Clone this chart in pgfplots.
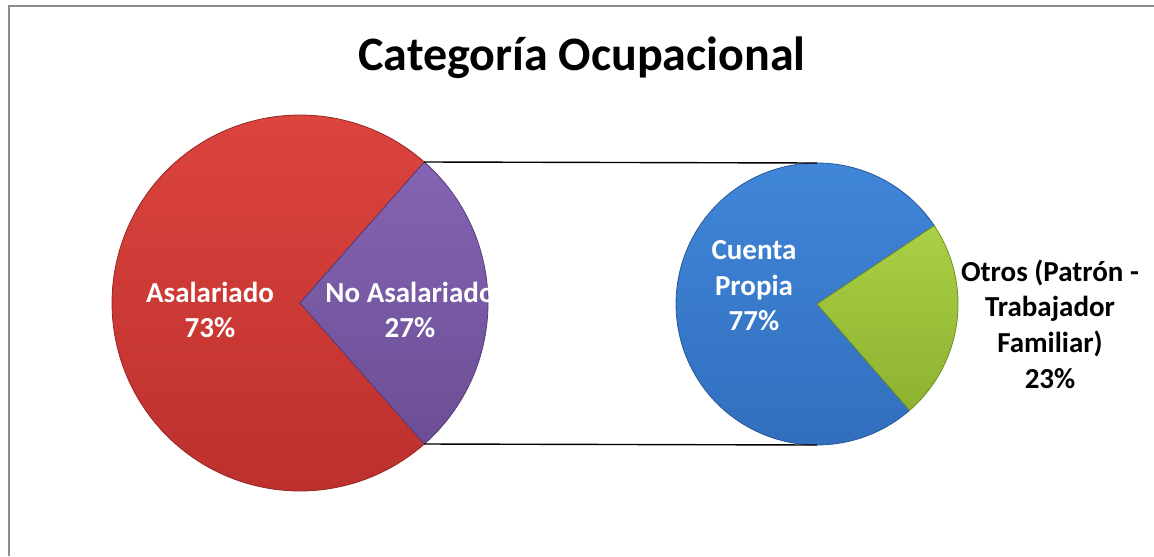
\documentclass[border=0pt]{standalone}
\usepackage{pgfplots}
\pgfplotsset{compat=1.18}
\usepackage{fontspec}
\setmainfont{Carlito}
\definecolor{redT}{RGB}{220,68,62}
\definecolor{redB}{RGB}{188,48,45}
\definecolor{purT}{RGB}{132,100,178}
\definecolor{purB}{RGB}{108,78,150}
\definecolor{bluT}{RGB}{64,134,216}
\definecolor{bluB}{RGB}{50,110,190}
\definecolor{grnT}{RGB}{170,208,70}
\definecolor{grnB}{RGB}{140,178,48}
\definecolor{frame}{RGB}{140,140,140}
\begin{document}
\begin{tikzpicture}
\useasboundingbox (0,0) rectangle (577pt,278pt);
% data (percent)
\def\vAsal{73}\def\vNoAsal{27}
\def\vCuenta{77}\def\vOtros{23}
\pgfmathsetmacro\aL{\vNoAsal*3.6/2}
\pgfmathsetmacro\aR{360-\aL}
\pgfmathsetmacro\gA{-49}
\pgfmathsetmacro\gB{-49+\vOtros*3.6}
\pgfmathsetmacro\gC{360-49}
\begin{axis}[scale only axis, width=577pt, height=278pt,
  xmin=0, xmax=1154, ymin=0, ymax=556, y dir=reverse,
  hide axis, clip=false, samples=150]
\draw[frame, line width=1pt] (axis cs:9,556) -- (axis cs:9,6) -- (axis cs:1154,6);
% left pie
\addplot[domain=\aL:\aR, top color=redT, bottom color=redB, draw=redB!80!black, line width=0.4pt]
  ({300+188*cos(x)},{303-188*sin(x)}) -- (axis cs:300,303) -- cycle;
\addplot[domain=-\aL:\aL, top color=purT, bottom color=purB, draw=purB!80!black, line width=0.4pt]
  ({300+188*cos(x)},{303-188*sin(x)}) -- (axis cs:300,303) -- cycle;
% right pie
\addplot[domain=\gB:\gC, top color=bluT, bottom color=bluB, draw=bluB!80!black, line width=0.4pt]
  ({817+141*cos(x)},{304-141*sin(x)}) -- (axis cs:817,304) -- cycle;
\addplot[domain=\gA:\gB, top color=grnT, bottom color=grnB, draw=grnB!80!black, line width=0.4pt]
  ({817+141*cos(x)},{304-141*sin(x)}) -- (axis cs:817,304) -- cycle;
% connectors
\draw[black, line width=0.7pt] (axis cs:424,162) -- (axis cs:817,163);
\draw[black, line width=0.7pt] (axis cs:424,444) -- (axis cs:817,445);
% title
\node[anchor=base, font=\fontsize{24}{28}\selectfont\bfseries] at (axis cs:582,70) {Categoría Ocupacional};
% labels
\node[align=center, text=white, font=\fontsize{14.5}{17.8}\selectfont\bfseries] at (axis cs:210,310) {Asalariado\\73\%};
\node[align=center, text=white, font=\fontsize{14.5}{17.8}\selectfont\bfseries] at (axis cs:410,310) {No Asalariado\\27\%};
\node[align=center, text=white, font=\fontsize{14.5}{17.8}\selectfont\bfseries] at (axis cs:754,286) {Cuenta\\Propia\\77\%};
\node[align=center, text=black, font=\fontsize{14.5}{17.8}\selectfont\bfseries] at (axis cs:1050,324) {Otros (Patrón -\\Trabajador\\Familiar)\\23\%};
\end{axis}
\end{tikzpicture}
\end{document}
